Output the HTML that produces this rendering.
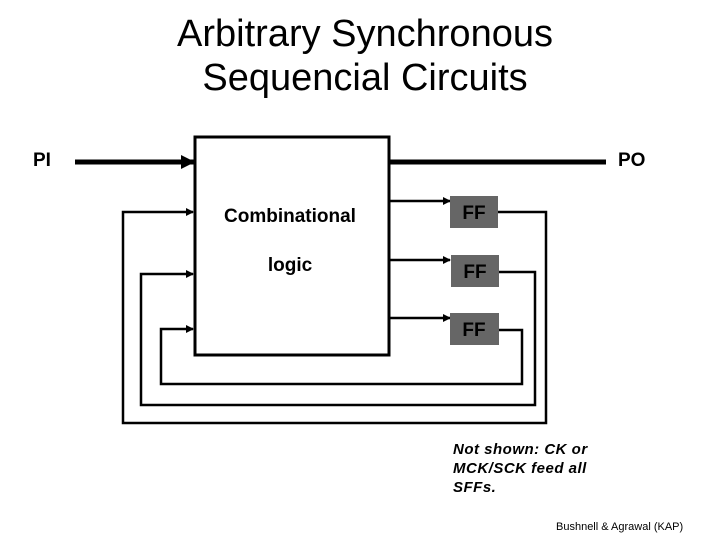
<!DOCTYPE html>
<html><head><style>
body{margin:0;width:720px;height:540px;background:#fff;overflow:hidden;position:relative;font-family:"Liberation Sans",sans-serif}
.t{position:absolute;left:0;width:730px;text-align:center;font-size:38px;line-height:44px;color:#000}
.ab{position:absolute;color:#000}
</style></head><body>
<div class="t" style="top:12px">Arbitrary Synchronous</div>
<div class="t" style="top:56px">Sequencial Circuits</div>
<div class="ab" style="left:33px;top:150px;font-size:19px;font-weight:bold">PI</div>
<div class="ab" style="left:618px;top:150px;font-size:19px;font-weight:bold">PO</div>
<svg width="720" height="540" style="position:absolute;left:0;top:0">
<defs>
<marker id="a" markerWidth="8" markerHeight="8" refX="7" refY="4" orient="auto" markerUnits="userSpaceOnUse"><path d="M0,0 L8,4 L0,8 z"/></marker>
<marker id="b" markerWidth="14" markerHeight="14" refX="13" refY="7" orient="auto" markerUnits="userSpaceOnUse"><path d="M0,0 L14,7 L0,14 z"/></marker>
</defs>
<rect x="195" y="137" width="194" height="218" fill="#fff" stroke="#000" stroke-width="3"/>
<line x1="75" y1="162" x2="194" y2="162" stroke="#000" stroke-width="5" marker-end="url(#b)"/>
<line x1="389" y1="162" x2="606" y2="162" stroke="#000" stroke-width="5"/>
<g stroke="#000" stroke-width="2.5" fill="none">
<line x1="389" y1="201" x2="450" y2="201" marker-end="url(#a)"/>
<line x1="389" y1="260" x2="450" y2="260" marker-end="url(#a)"/>
<line x1="389" y1="318" x2="450" y2="318" marker-end="url(#a)"/>
<polyline points="498,212 546,212 546,423 123,423 123,212 193,212" marker-end="url(#a)"/>
<polyline points="499,272 535,272 535,405 141,405 141,274 193,274" marker-end="url(#a)"/>
<polyline points="499,330 522,330 522,384 161,384 161,329 193,329" marker-end="url(#a)"/>
</g>
<rect x="450" y="196" width="48" height="32" fill="#666"/>
<rect x="451" y="255" width="48" height="32" fill="#666"/>
<rect x="450" y="313" width="49" height="32" fill="#666"/>
<g font-family="Liberation Sans" font-weight="bold" font-size="19" text-anchor="middle">
<text x="474" y="219">FF</text><text x="475" y="278">FF</text><text x="474" y="336">FF</text>
<text x="290" y="222">Combinational</text>
<text x="290" y="271">logic</text>
</g>
</svg>
<div class="ab" style="left:453px;top:440px;font-size:15px;line-height:19px;font-style:italic;font-weight:bold;letter-spacing:0.5px">Not shown: CK or<br>MCK/SCK feed all<br>SFFs.</div>
<div class="ab" style="left:556px;top:521px;font-size:11px">Bushnell &amp; Agrawal (KAP)</div>
</body></html>
